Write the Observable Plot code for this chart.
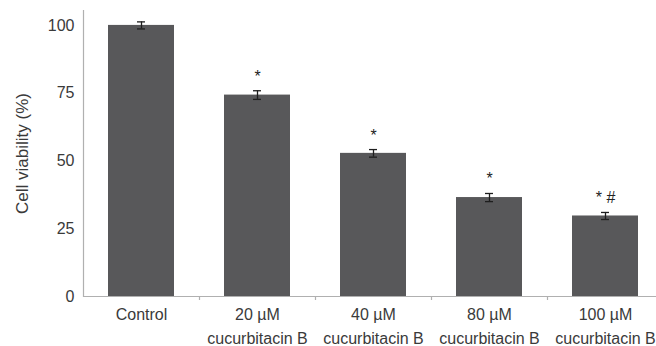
<!DOCTYPE html>
<html>
<head>
<meta charset="utf-8">
<script src="https://cdn.jsdelivr.net/npm/d3@7"></script>
<script src="https://cdn.jsdelivr.net/npm/@observablehq/plot@0.6"></script>
<style>
  html, body { margin: 0; padding: 0; background: #fff; overflow: hidden; }
  #chart svg { display: block; font-family: "Liberation Sans", Arial, sans-serif; }
</style>
</head>
<body>
<div id="chart"></div>
<script>
const categories = ["Control", "20 µM cucurbitacin B", "40 µM cucurbitacin B", "80 µM cucurbitacin B", "100 µM cucurbitacin B"];
const labelLine1 = ["Control", "20 µM", "40 µM", "80 µM", "100 µM"];
const labelLine2 = ["", "cucurbitacin B", "cucurbitacin B", "cucurbitacin B", "cucurbitacin B"];
const viability = [100.0, 74.3, 52.8, 36.5, 29.7];
const errors = [1.3, 1.6, 1.4, 1.5, 1.3];
const significance = ["", "*", "*", "*", "* #"];
const yTicks = [0, 25, 50, 75, 100];
const yLabel = "Cell viability (%)";

const data = categories.map((c, i) => ({
  cat: c, v: viability[i], lo: viability[i] - errors[i], hi: viability[i] + errors[i], sig: significance[i], i
}));
const labelOf = c => {
  const i = categories.indexOf(c);
  return labelLine2[i] ? labelLine1[i] + "\n" + labelLine2[i] : labelLine1[i];
};

const textColor = "#3a3a3a";
const axisColor = "#b0b0b0";

const chart = Plot.plot({
  width: 656,
  height: 346,
  marginLeft: 83,
  marginRight: -7,
  marginTop: 10,
  marginBottom: 50,
  style: {fontFamily: "'Liberation Sans', Arial, sans-serif", background: "#fff", overflow: "hidden"},
  x: {domain: categories, paddingInner: 0.431, paddingOuter: 0.2155, axis: null},
  y: {domain: [0, 105.5], axis: null},
  marks: [
    Plot.barY(data, {x: "cat", y: "v", fill: "#58585a"}),
    Plot.ruleX(data, {x: "cat", y1: "lo", y2: "hi", stroke: "#1e1e1e", strokeWidth: 1.3}),
    Plot.tickY(data, {x: "cat", y: "lo", stroke: "#1e1e1e", strokeWidth: 1.3, insetLeft: 29, insetRight: 29}),
    Plot.tickY(data, {x: "cat", y: "hi", stroke: "#1e1e1e", strokeWidth: 1.3, insetLeft: 29, insetRight: 29}),
    Plot.text(data.filter(d => d.sig), {x: "cat", y: "hi", text: "sig", lineAnchor: "bottom", dy: -9, fontSize: 16, fill: "#222"}),
    Plot.frame({anchor: "left", stroke: axisColor, strokeWidth: 1.2}),
    Plot.ruleY([0], {stroke: axisColor, strokeWidth: 1.2}),
    Plot.axisX({tickSize: 4, tickFormat: () => "", dx: 58, stroke: axisColor, strokeWidth: 1.2, label: null}),
    Plot.text(data, {x: "cat", text: d => labelOf(d.cat), frameAnchor: "bottom", lineAnchor: "top", dy: 6, lineHeight: 1.5, fontSize: 16, fill: textColor, letterSpacing: "0.3px"}),
    Plot.axisY({ticks: yTicks, tickSize: 0, tickPadding: 9, fontSize: 16, fill: textColor, label: null}),
    Plot.text([yLabel], {frameAnchor: "left", dx: -61, rotate: -90, fontSize: 17, fill: textColor, textAnchor: "middle"})
  ]
});
document.getElementById("chart").appendChild(chart);
</script>
</body>
</html>
